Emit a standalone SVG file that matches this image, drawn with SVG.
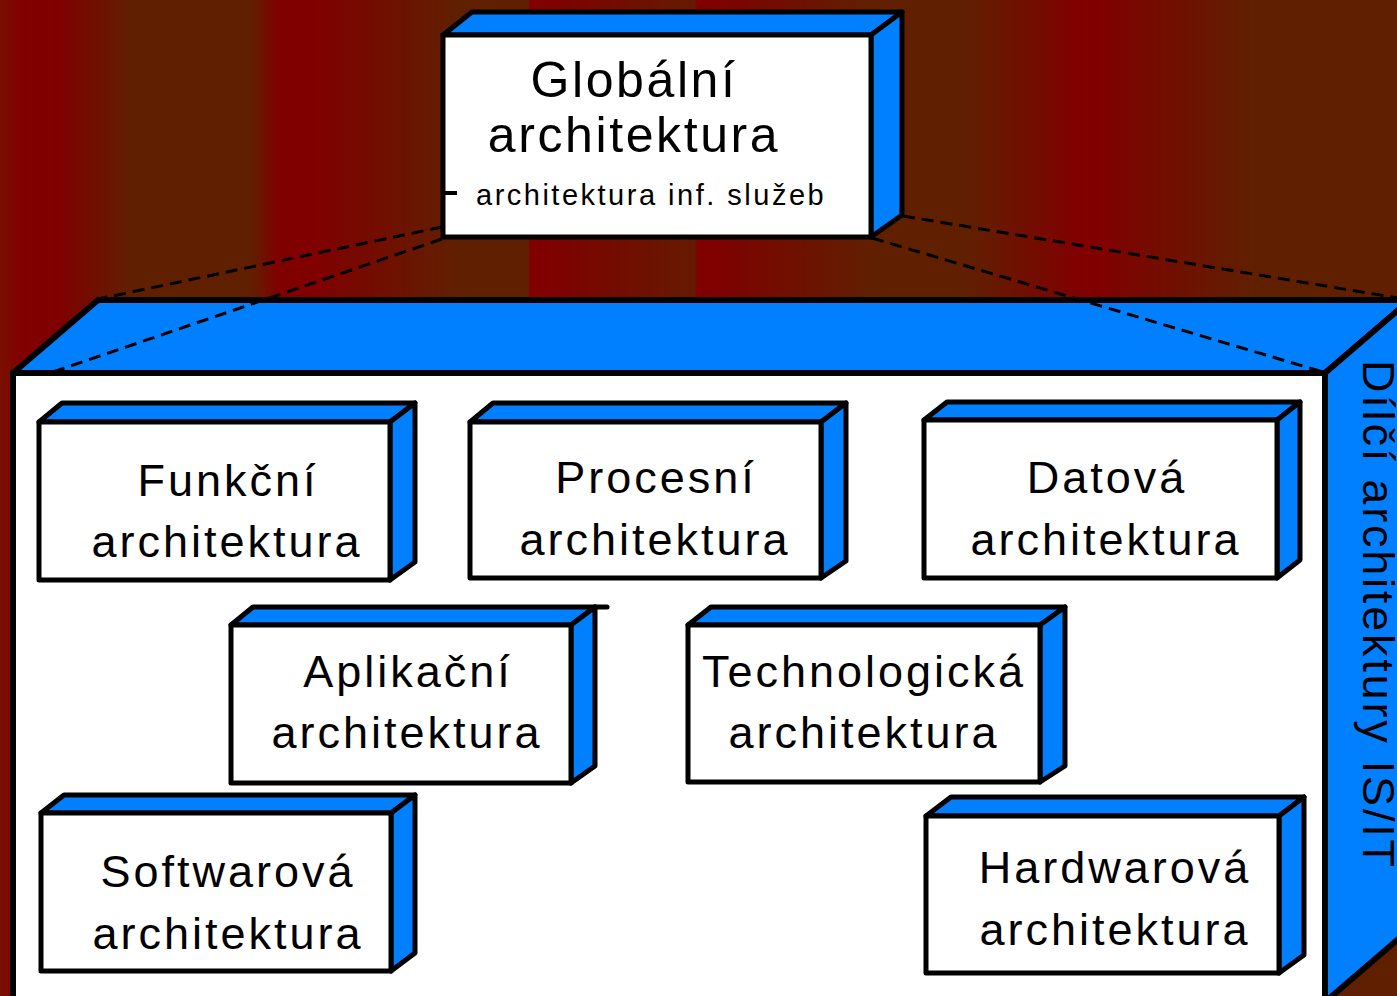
<svg xmlns="http://www.w3.org/2000/svg" width="1397" height="996" viewBox="0 0 1397 996">
<defs>
<linearGradient id="bg" gradientUnits="userSpaceOnUse" x1="0" y1="0" x2="1397" y2="0">
<stop offset="0" stop-color="#7a1000"/>
<stop offset="0.0157" stop-color="#800000"/>
<stop offset="0.0408" stop-color="#800000"/>
<stop offset="0.0959" stop-color="#602000"/>
<stop offset="0.179" stop-color="#602000"/>
<stop offset="0.1997" stop-color="#800000"/>
<stop offset="0.2255" stop-color="#800000"/>
<stop offset="0.3293" stop-color="#602000"/>
<stop offset="0.378" stop-color="#602000"/>
<stop offset="0.3794" stop-color="#800000"/>
<stop offset="0.3901" stop-color="#800000"/>
<stop offset="0.4975" stop-color="#661a00"/>
<stop offset="0.4989" stop-color="#800000"/>
<stop offset="0.5082" stop-color="#800000"/>
<stop offset="0.6264" stop-color="#602000"/>
<stop offset="0.6908" stop-color="#602000"/>
<stop offset="0.7731" stop-color="#800000"/>
<stop offset="0.786" stop-color="#800000"/>
<stop offset="0.8984" stop-color="#602000"/>
<stop offset="1" stop-color="#602000"/>
</linearGradient>
</defs>
<style>
.face{fill:#ffffff;stroke:#000;stroke-width:5;stroke-linejoin:round}
.side{fill:#0080ff;stroke:#000;stroke-width:5;stroke-linejoin:round}
.big{stroke-width:6}
.lbl{font-family:"Liberation Sans",Arial,sans-serif;font-size:45px;letter-spacing:3px;text-anchor:middle;fill:#000}
.glb{font-size:50px;letter-spacing:2.6px}
.sub{font-size:29px;letter-spacing:2.5px;text-anchor:start}
.vert{font-family:"Liberation Sans",Arial,sans-serif;font-size:45px;letter-spacing:2.8px;fill:#000}
.dash{fill:none;stroke:#000;stroke-width:3;stroke-dasharray:12 7}
</style>
<rect x="0" y="0" width="1397" height="996" fill="url(#bg)"/>

<g id="dilci-architektury">
<polygon class="side big" points="13,373 98,300 1410,300 1325,373"/>
<polygon class="side big" points="1325,373 1410,300 1410,929 1325,1002"/>
<rect class="face big" x="13" y="373" width="1312" height="629"/>
<text class="vert" transform="translate(1363,360) rotate(90)">Dílčí architektury IS/IT</text>
</g>

<g id="connectors">
<line class="dash" x1="442" y1="227" x2="98" y2="299"/>
<line class="dash" x1="442" y1="239" x2="47" y2="374"/>
<line class="dash" x1="903" y1="216" x2="1410" y2="300"/>
<line class="dash" x1="872" y1="238" x2="1323" y2="372"/>
</g>

<g id="globalni">
<polygon class="side" points="443,35 472,12 902,12 871,35"/>
<polygon class="side" points="871,35 902,12 902,215 871,237"/>
<rect class="face" x="443" y="35" width="428" height="202"/>
<line x1="443" y1="193" x2="457" y2="193" stroke="#000" stroke-width="4"/>
<text class="lbl glb" x="634" y="97">Globální</text>
<text class="lbl glb" x="634" y="152">architektura</text>
<text class="lbl sub" x="476" y="205">architektura inf. služeb</text>
</g>

<g id="funkcni">
<polygon class="side" points="39,422 62,403 415,403 390,422"/>
<polygon class="side" points="390,422 415,403 415,562 390,580"/>
<rect class="face" x="39" y="422" width="351" height="158"/>
<text class="lbl" x="228" y="496">Funkční</text>
<text class="lbl" x="227" y="557">architektura</text>
</g>

<g id="procesni">
<polygon class="side" points="470,422 493,403 846,403 821,422"/>
<polygon class="side" points="821,422 846,403 846,561 821,578"/>
<rect class="face" x="470" y="422" width="351" height="156"/>
<text class="lbl" x="656" y="493">Procesní</text>
<text class="lbl" x="655" y="555">architektura</text>
</g>

<g id="datova">
<polygon class="side" points="924,420 947,402 1300,402 1277,420"/>
<polygon class="side" points="1277,420 1300,402 1300,560 1277,578"/>
<rect class="face" x="924" y="420" width="353" height="158"/>
<text class="lbl" x="1107" y="493">Datová</text>
<text class="lbl" x="1106" y="555">architektura</text>
</g>

<g id="aplikacni">
<polygon class="side" points="231,625 253,607 595,607 571,625"/>
<line x1="595" y1="607" x2="607" y2="607" stroke="#000" stroke-width="5" stroke-linecap="round"/>
<polygon class="side" points="571,625 595,607 595,766 571,783"/>
<rect class="face" x="231" y="625" width="340" height="158"/>
<text class="lbl" x="408" y="687">Aplikační</text>
<text class="lbl" x="407" y="748">architektura</text>
</g>

<g id="technologicka">
<polygon class="side" points="688,625 711,607 1065,607 1040,625"/>
<polygon class="side" points="1040,625 1065,607 1065,766 1040,782"/>
<rect class="face" x="688" y="625" width="352" height="157"/>
<text class="lbl" x="864" y="687">Technologická</text>
<text class="lbl" x="864" y="748">architektura</text>
</g>

<g id="softwarova">
<polygon class="side" points="41,813 64,795 415,795 391,813"/>
<polygon class="side" points="391,813 415,795 415,953 391,971"/>
<rect class="face" x="41" y="813" width="350" height="158"/>
<text class="lbl" x="228" y="887">Softwarová</text>
<text class="lbl" x="228" y="949">architektura</text>
</g>

<g id="hardwarova">
<polygon class="side" points="926,816 951,797 1304,797 1279,816"/>
<polygon class="side" points="1279,816 1304,797 1304,955 1279,973"/>
<rect class="face" x="926" y="816" width="353" height="157"/>
<text class="lbl" x="1115" y="883">Hardwarová</text>
<text class="lbl" x="1115" y="945">architektura</text>
</g>
</svg>
